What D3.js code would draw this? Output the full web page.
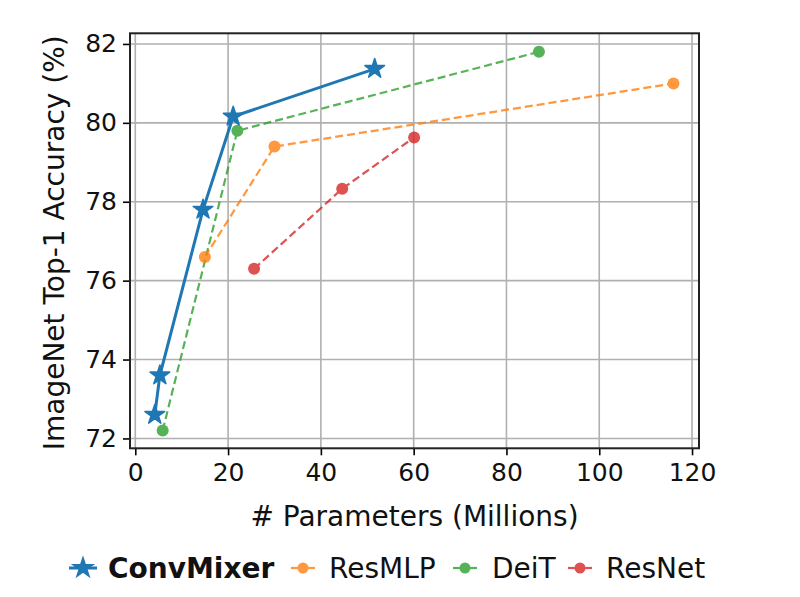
<!DOCTYPE html>
<html><head><meta charset="utf-8">
<script src="https://cdn.jsdelivr.net/npm/d3@7"></script>
<style>html,body{margin:0;padding:0;background:#fff;}svg{display:block;}</style>
</head><body>
<script>
// ---- data ----
const seriesNames = ["ConvMixer", "ResMLP", "DeiT", "ResNet"];
const convMixerParams = [4.2, 5.3, 14.6, 21.1, 51.6];
const convMixerAcc    = [72.6, 73.6, 77.8, 80.16, 81.37];
const resMLPParams = [15.0, 30.0, 116.0];
const resMLPAcc    = [76.6, 79.4, 81.0];
const deitParams = [5.9, 22.0, 87.0];
const deitAcc    = [72.2, 79.8, 81.8];
const resNetParams = [25.6, 44.6, 60.1];
const resNetAcc    = [76.3, 78.33, 79.63];
const xTicks = [0, 20, 40, 60, 80, 100, 120];
const yTicks = [72, 74, 76, 78, 80, 82];
const colors = ["#1f77b4", "#ff7f0e", "#2ca02c", "#d62728"];

(function () {
const W = 800, H = 597;
const svg = d3.select("body").append("svg").attr("width", W).attr("height", H)
  .style("font-family", "'DejaVu Sans', sans-serif");

const pL = 130, pR = 699, pT = 33.3, pB = 448.3;
const x = d3.scaleLinear().domain([-1.14, 121.5]).range([pL, pR]);
const y = d3.scaleLinear().domain([71.75, 82.27]).range([pB, pT]);

// grid
const g = svg.append("g");
g.selectAll("line.gx").data(xTicks).join("line").attr("class", "gx")
  .attr("x1", d => x(d)).attr("x2", d => x(d)).attr("y1", pT).attr("y2", pB)
  .attr("stroke", "#b0b0b0").attr("stroke-width", 1.6);
g.selectAll("line.gy").data(yTicks).join("line").attr("class", "gy")
  .attr("y1", d => y(d)).attr("y2", d => y(d)).attr("x1", pL).attr("x2", pR)
  .attr("stroke", "#b0b0b0").attr("stroke-width", 1.6);

// axes
const xAxis = d3.axisBottom(x).tickValues(xTicks).tickSize(7).tickPadding(8).tickSizeOuter(0);
const yAxis = d3.axisLeft(y).tickValues(yTicks).tickSize(7).tickPadding(6).tickSizeOuter(0);
const gx = svg.append("g").attr("transform", `translate(0,${pB})`).call(xAxis);
const gy = svg.append("g").attr("transform", `translate(${pL},0)`).call(yAxis);
[gx, gy].forEach(a => {
  a.select(".domain").remove();
  a.selectAll(".tick line").attr("stroke", "#000").attr("stroke-width", 1.6);
  a.selectAll(".tick text").attr("fill", "#111").style("font-size", "25px").style("font-family", "'DejaVu Sans', sans-serif");
});

// frame
svg.append("rect").attr("x", pL).attr("y", pT).attr("width", pR - pL).attr("height", pB - pT)
  .attr("fill", "none").attr("stroke", "#222").attr("stroke-width", 2);

// series
const series = [
  {name: seriesNames[0], xs: convMixerParams, ys: convMixerAcc, color: colors[0], star: true},
  {name: seriesNames[1], xs: resMLPParams, ys: resMLPAcc, color: colors[1]},
  {name: seriesNames[2], xs: deitParams, ys: deitAcc, color: colors[2]},
  {name: seriesNames[3], xs: resNetParams, ys: resNetAcc, color: colors[3]},
];
const line = d3.line().x(d => x(d[0])).y(d => y(d[1]));
const starPath = d3.symbol().type(d3.symbolStar).size(120)();
const drawOrder = [3, 2, 1, 0];
drawOrder.forEach(i => {
  const s = series[i];
  const pts = s.xs.map((v, k) => [v, s.ys[k]]);
  const gs = svg.append("g");
  if (s.star) {
    gs.append("path").attr("d", line(pts)).attr("fill", "none").attr("stroke", s.color).attr("stroke-width", 3);
    gs.selectAll("path.m").data(pts).join("path").attr("class", "m")
      .attr("d", starPath).attr("transform", d => `translate(${x(d[0])},${y(d[1])})`)
      .attr("fill", s.color).attr("stroke", s.color).attr("stroke-width", 1.5).attr("stroke-linejoin", "round");
  } else {
    gs.attr("opacity", 0.8);
    gs.append("path").attr("d", line(pts)).attr("fill", "none").attr("stroke", s.color)
      .attr("stroke-width", 2.2).attr("stroke-dasharray", "8,4");
    gs.selectAll("circle").data(pts).join("circle")
      .attr("cx", d => x(d[0])).attr("cy", d => y(d[1])).attr("r", 6).attr("fill", s.color);
  }
});

// axis labels
svg.append("text").attr("x", (pL + pR) / 2).attr("y", 526).attr("text-anchor", "middle")
  .style("font-size", "28px").attr("fill", "#111").text("# Parameters (Millions)");
svg.append("text").attr("transform", `translate(64,${(pT + pB) / 2 + 2}) rotate(-90)`).attr("text-anchor", "middle")
  .style("font-size", "28px").attr("fill", "#111").text("ImageNet Top-1 Accuracy (%)");

// legend
const legX = [83, 303, 465, 580];
const legTextX = [108, 329, 492, 606];
const legY = 568;
series.forEach((s, i) => {
  const lg = svg.append("g");
  if (s.star) {
    lg.append("line").attr("x1", legX[i] - 14).attr("x2", legX[i] + 14).attr("y1", legY).attr("y2", legY)
      .attr("stroke", s.color).attr("stroke-width", 3);
    lg.append("path").attr("d", starPath).attr("transform", `translate(${legX[i]},${legY})`)
      .attr("fill", s.color).attr("stroke", s.color).attr("stroke-width", 1.5);
  } else {
    lg.attr("opacity", 0.8);
    lg.append("line").attr("x1", legX[i] - 12).attr("x2", legX[i] + 12).attr("y1", legY).attr("y2", legY)
      .attr("stroke", s.color).attr("stroke-width", 2.2);
    lg.append("circle").attr("cx", legX[i]).attr("cy", legY).attr("r", 5.5).attr("fill", s.color);
  }
  svg.append("text").attr("x", legTextX[i]).attr("y", legY).attr("dy", "0.35em")
    .style("font-size", "28px").style("font-weight", s.star ? "bold" : "normal").attr("fill", "#111")
    .text(s.name);
});
})();
</script>
</body></html>
